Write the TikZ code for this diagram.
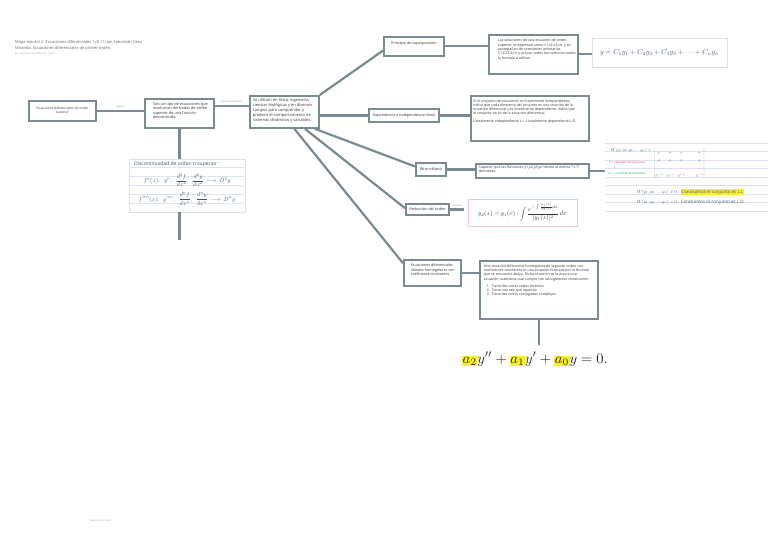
\documentclass[tikz,border=0pt]{standalone}
\usepackage{amsmath}
\usepackage{fontspec}
\setmainfont{Open Sans}
\usetikzlibrary{calc}
\definecolor{bordc}{RGB}{122,138,144}
\definecolor{txtc}{RGB}{55,55,55}
\definecolor{inkc}{RGB}{70,82,105}
\definecolor{paperline}{RGB}{218,228,242}
\definecolor{pinkb}{RGB}{242,196,205}
\definecolor{hl}{RGB}{250,240,40}
\definecolor{redink}{RGB}{225,60,60}
\definecolor{greenink}{RGB}{40,170,90}
\tikzset{
  mbox/.style={draw=bordc, line width=1.8pt, fill=white, inner sep=2pt, anchor=north west, text=txtc},
  conn/.style={draw=bordc, line width=2.2pt},
  lbl/.style={font=\fontsize{2.2}{2.6}\selectfont, text=black!50, inner sep=0.5pt},
  picframe/.style={draw=black!12, line width=0.6pt, fill=white},
  ink/.style={text=inkc, inner sep=0pt},
  mth/.style={inner sep=0pt, font=\fontsize{10}{12}\selectfont, scale=#1, transform shape},
}
% #1 inner width, #2 inner height, #3 left indent, #4 text width, #5 text
\newcommand{\tb}[5]{\makebox[#1][l]{\hspace*{#3}\parbox[c][#2][t]{#4}{\raggedright #5}}}
\newcommand{\cb}[3]{\parbox[c][#2][c]{#1}{\centering #3}}
\newcommand{\fs}[2]{\fontsize{#1}{#2}\selectfont}
\begin{document}
\begin{tikzpicture}[x=1pt,y=-1pt]
\fill[white] (0,0) rectangle (768,543);
\useasboundingbox (0,0) rectangle (768,543);

% title
\node[anchor=north west, align=left, inner sep=0, text=black!60, font=\fs{4}{5.8}] (title) at (15,40)
 {Mapa mental 2. Ecuaciones diferenciales 1 (8-11) Jan Sebastián Grau\\Miranda: Ecuaciones diferenciales de primer orden.\\{\fs{2.4}{3}\color{black!35}Jan Sebastián Grau Miranda \quad 2023}};

% main nodes
\node[mbox, font=\fs{3.3}{4.2}] (A) at (28,100) {\cb{63pt}{16pt}{\parbox{54pt}{\centering Ecuaciones diferenciales de orden superior}}};
\node[mbox, font=\fs{3.85}{4.5}] (B) at (144,98) {\tb{65pt}{25pt}{6pt}{58pt}{\vspace*{1.5pt}Son un tipo de ecuaciones que involucran derivadas de orden superior de una función desconocida.}};
\node[mbox, font=\fs{4}{4.9}] (C) at (249,95) {\tb{65pt}{28pt}{1pt}{63pt}{\vspace*{1pt}Se utilizan en física, ingeniería, ciencias biológicas y en diversos campos para comprender y predecir el comportamiento de sistemas dinámicos y variables.}};

\node[mbox, font=\fs{3.7}{4.4}] (P) at (383,36) {\parbox[c][15pt][t]{56pt}{\centering\vspace*{2.5pt}Principio de superposición}};
\node[mbox, font=\fs{3.6}{4.4}] (SR) at (488,34) {\tb{85pt}{35pt}{7pt}{78pt}{\vspace*{2pt}Las soluciones de una ecuación de orden superior se expresan como c1,c2,c3,cn, y se acompañan de constantes arbitrarias C1,C2,C3,Cn y así por todos los números reales la fórmula a utilizar}};

\node[mbox, font=\fs{3.7}{4.4}] (D) at (368,108) {\cb{66pt}{9pt}{Dependencia e independencia lineal}};
\node[mbox, font=\fs{3.55}{4.2}] (DR) at (470,95) {\tb{114pt}{41pt}{0.5pt}{104pt}{\vspace*{1.5pt}Si el conjunto de soluciones es linealmente independiente, indica que cada elemento del conjunto es una solución de la ecuación diferencial y es linealmente dependiente, indica que el conjunto no es de la ecuación diferencial.\par\vspace{4pt}Linealmente independiente L.I. \ Linealmente dependiente L.D.}};

\node[mbox, font=\fs{4}{4.6}] (W) at (415,162) {\cb{26pt}{9pt}{Wronskiano}};
\node[mbox, font=\fs{3.6}{4.2}] (WR) at (475,163) {\tb{109pt}{10pt}{1pt}{106pt}{Suponer que las funciones y1,y2,y3,yn tienen al menos ''n-1'' derivadas.}};

\node[mbox, font=\fs{3.8}{4.4}] (R) at (405,203) {\cb{39pt}{7pt}{Reducción del orden}};

\node[mbox, font=\fs{3.7}{4.3}] (E) at (403,259) {\tb{53pt}{22pt}{5pt}{46pt}{\vspace*{2pt}Ecuaciones diferenciales lineales homogéneas con coeficiente constantes}};
\node[mbox, font=\fs{3.55}{4.15}] (ER) at (479,260) {\tb{114pt}{54pt}{2pt}{105pt}{\vspace*{2pt}Una ecuación diferencial homogénea de segundo orden con coeficientes constantes es una ecuación formada por la fórmula que se encuentra abajo. Dicha ecuación se le asocia una ecuación cuadrática cual cumple con las siguientes condiciones:\par\vspace{3pt}
\hspace*{3pt}1.\ \ Tiene dos raíces reales distintas\par
\hspace*{3pt}2.\ \ Tiene una raíz real repetida\par
\hspace*{3pt}3.\ \ Tiene dos raíces conjugadas complejas}};

% picture 1: handwritten notation
\coordinate (I1nw) at (129,159);
\coordinate (I1se) at (245,212);
\draw[picframe] (I1nw) rectangle (I1se);
\foreach \yy in {167,176,185,194,203} {\draw[paperline, line width=0.4pt] (130,\yy) -- (244,\yy);}
\node[ink, anchor=north west, font=\fs{5}{6}] (I1t) at (134,161) {Discontinuidad de orden n superior :};
\node[ink, mth=0.6] (I1a) at (187,180) {$f''(x),\ \ y'',\ \ \dfrac{d^2f}{dx^2},\ \ \dfrac{d^2y}{dx^2}\ \longrightarrow\ D^2y$};
\node[ink, mth=0.6] (I1b) at (187,199) {$f^{(n)}(x),\ \ y^{(n)},\ \ \dfrac{d^nf}{dx^n},\ \ \dfrac{d^ny}{dx^n}\ \longrightarrow\ D^ny$};

% picture 2: superposition
\coordinate (I2nw) at (592,38);
\coordinate (I2se) at (727,67);
\draw[picframe] (I2nw) rectangle (I2se);
\node[ink, mth=0.72] (I2t) at (659.5,52.5) {$y=C_1y_1+C_2y_2+C_3y_3+\dots+C_ny_n$};

% picture 3: Wronskian notes
\foreach \yy in {143,151.5,160,168.5,177,185.5,194,202.5,211} {\draw[paperline, line width=0.4pt] (605,\yy) -- (768,\yy);}
\node[ink, mth=0.42, anchor=west] (w1) at (611,150) {$W(y_1,y_2,y_3,\dots y_n)=$};
\node[anchor=west, inner sep=0pt, text=redink, font=\fs{3}{4}] (w2) at (609,162) {n = cantidad de funciones};
\node[text=redink, mth=0.35] (w2b) at (615,167.5) {$\uparrow$};
\node[anchor=west, inner sep=0pt, text=greenink, font=\fs{2.9}{4}] (w3) at (608,173) {n-1 = cantidad de derivadas};
\node[ink, mth=0.3, anchor=west] (wm) at (654,163.5) {$\setlength{\arraycolsep}{5pt}\renewcommand{\arraystretch}{2.2}\left|\begin{matrix} y_1 & y_2 & y_3 & \cdots & y_n\\ y_1' & y_2' & y_3' & \cdots & y_n'\\ \vdots & \vdots & \vdots & & \vdots\\ y_1^{(n-1)} & y_2^{(n-1)} & y_3^{(n-1)} & \cdots & y_n^{(n-1)}\end{matrix}\right|$};
\node[ink, mth=0.45, anchor=west] (w4) at (637,192) {$W(y_1,y_2,\dots y_n)\neq 0$ : \setlength{\fboxsep}{1.5pt}\colorbox{hl}{Concluimos el conjunto es L.I.}};
\node[ink, mth=0.45, anchor=west] (w5) at (637,202) {$W(y_1,y_2,\dots y_n)=0$ : Concluimos el conjunto es L.D.};

% picture 4: reduction formula
\coordinate (I4nw) at (468,199);
\coordinate (I4se) at (577,226);
\draw[picframe, draw=pinkb] (I4nw) rectangle (I4se);
\node[text=black!80, mth=0.63] (I4t) at (522.5,212.5) {$y_2(x)=y_1(x)\cdot\displaystyle\int\frac{e^{-\int\frac{a_1(x)}{a_2(x)}dx}}{[y_1(x)]^2}\,dx$};

% picture 5: homogeneous equation
\node[text=black!85, mth=1.45] (I5t) at (535,359) {\setlength{\fboxsep}{0.3pt}$\colorbox{hl}{$a_2$}y''+\colorbox{hl}{$a_1$}y'+\colorbox{hl}{$a_0$}y=0.$};
\coordinate (I5top) at (535,345);

% footer
\node[lbl, text=black!40] (foot) at (100,521) {Creado con GoConqr};

% connectors
\draw[conn] (A.east) -- (A.east -| B.west) node[lbl, midway, above=1.5pt] (l1) {¿Qué es?};
\coordinate (bc) at ($(B.north east)!0.25!(B.south east)$);
\draw[conn] (bc) -- (bc -| C.west) node[lbl, midway, above=1.5pt] (l2) {¿Para qué se utilizan?};
\draw[conn] (B.south) -- (B.south |- I1nw);
\coordinate (bend) at ($(B.south |- I1se)+(0,28)$);
\draw[conn] (B.south |- I1se) -- (bend);

\draw[conn] (C.north east) -- ($(P.south west)!0.3!(P.north west)$);
\draw[conn] (C.east |- D.west) -- (D.west);
\coordinate (c1) at ($(C.south west)!0.64!(C.south east)$);
\coordinate (c2) at ($(C.south west)!0.79!(C.south east)$);
\coordinate (c3) at ($(C.south west)!0.93!(C.south east)$);
\draw[conn] (c3) -- ($(W.north west)!0.3!(W.south west)$);
\draw[conn] (c2) -- ($(R.north west)!0.4!(R.south west)$);
\draw[conn] (c1) -- ($(E.north west)!0.15!(E.south west)$);

\draw[conn] (P.east) -- (P.east -| SR.west);
\draw[conn] (SR.east) -- (SR.east -| I2nw);
\draw[conn] (D.east) -- (D.east -| DR.west);
\draw[conn] (W.east) -- (W.east -| WR.west);
\coordinate (wi) at (605,168);
\draw[conn] (WR.east) -- (WR.east -| wi);
\coordinate (rf) at ($(R.east)+(14,0)$);
\draw[conn] (R.east) -- (rf) node[lbl, midway, above=1.5pt] (l3) {Fórmula};
\draw[conn] (E.east) -- (E.east -| ER.west);
\draw[conn] (ER.south) -- (ER.south |- I5top);
\end{tikzpicture}
\end{document}
